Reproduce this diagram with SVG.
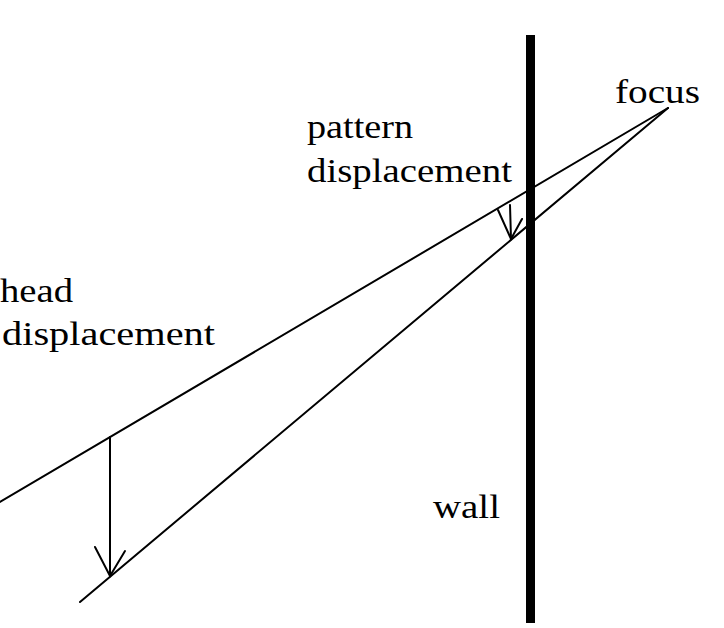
<svg xmlns="http://www.w3.org/2000/svg" width="724" height="628" viewBox="0 0 724 628">
<style>
.ln{stroke:#000;stroke-width:2;fill:none;stroke-linecap:round}
.t{font-family:"Liberation Serif","Times New Roman",serif;font-size:33px;fill:#000}
</style>
<rect width="724" height="628" fill="#fff"/>
<g id="wall">
<rect x="526" y="35" width="9" height="588" fill="#000"/>
<text class="t" x="433" y="518" textLength="67" lengthAdjust="spacingAndGlyphs">wall</text>
</g>
<g id="focus">
<text class="t" x="615" y="103" textLength="85" lengthAdjust="spacingAndGlyphs">focus</text>
</g>
<g id="pattern-displacement">
<text class="t" x="307" y="138" textLength="106" lengthAdjust="spacingAndGlyphs">pattern</text>
<text class="t" x="307" y="182" textLength="205" lengthAdjust="spacingAndGlyphs">displacement</text>
</g>
<g id="head-displacement">
<text class="t" x="0" y="302" textLength="73" lengthAdjust="spacingAndGlyphs">head</text>
<text class="t" x="2" y="345" textLength="213" lengthAdjust="spacingAndGlyphs">displacement</text>
</g>
<g id="connectors">
<line class="ln" x1="0" y1="502" x2="668" y2="108"/>
<line class="ln" x1="80" y1="602" x2="668" y2="108"/>
<line class="ln" x1="110" y1="437" x2="110" y2="576"/>
<polyline class="ln" points="95,547 110,576 125,551"/>
<line class="ln" x1="510" y1="205" x2="511" y2="239"/>
<polyline class="ln" points="498,210 511,239 522,219"/>
</g>
</svg>
